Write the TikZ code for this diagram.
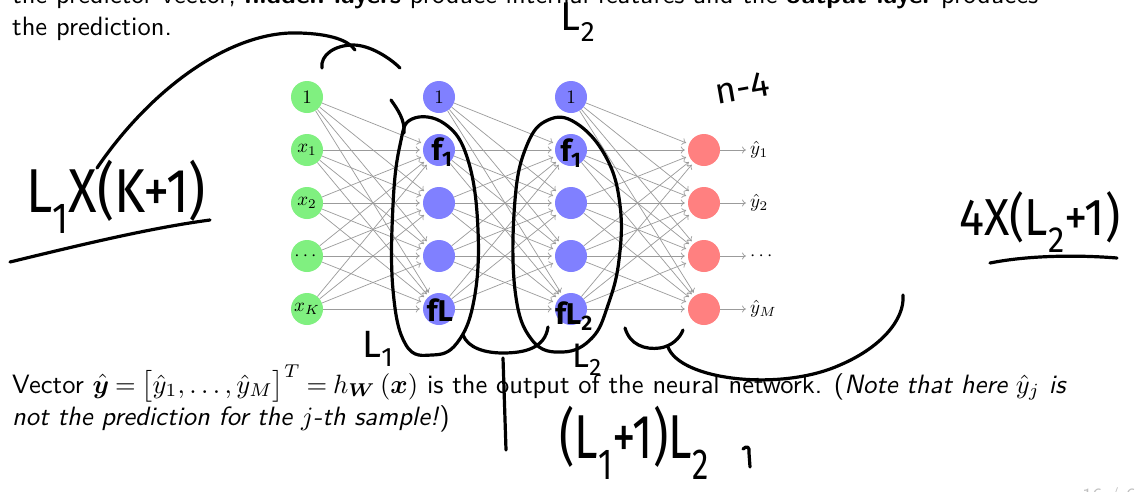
\documentclass[tikz,border=0pt]{standalone}
\usepackage{fontspec}
\usepackage{amsmath}
\usepackage{bm}
\usepackage{graphicx}
\usetikzlibrary{arrows.meta}
\newfontfamily\handfont{Fira Sans}
\newcommand\hf[1]{\handfont\fontsize{#1}{#1}\selectfont}
\newcommand\slidetxt[1]{\scalebox{2.65}{\sffamily\fontsize{10}{12}\selectfont #1}}
\newcommand\nodelbl[1]{\scalebox{1.9}{\fontsize{10}{12}\selectfont #1}}
\definecolor{ingreen}{RGB}{128,240,128}
\definecolor{hidblue}{RGB}{128,128,255}
\definecolor{outred}{RGB}{255,128,128}
\definecolor{edgegray}{RGB}{155,155,155}
\begin{document}
\begin{tikzpicture}[x=1pt,y=-1pt,
  neuron/.style={circle,minimum size=32pt,inner sep=0pt},
  inn/.style={neuron,fill=ingreen},
  hid/.style={neuron,fill=hidblue},
  outn/.style={neuron,fill=outred},
  edge/.style={draw=edgegray,line width=0.7pt,-{To[length=4pt,width=7pt]},shorten >=3pt},
  hw/.style={line width=3.2pt,line cap=round,line join=round},
  hand/.style={inner sep=0pt},
  slide/.style={inner sep=0pt,anchor=base west}]
\fill[white] (0,0) rectangle (1138,491);
\useasboundingbox (0,0) rectangle (1138,491);

% slide text
\node[slide] (t1) at (12,3) {\slidetxt{the predictor vector, \textbf{hidden layers} produce internal features and the \textbf{output layer} produces}};
\node[slide] (t2) at (12,35) {\slidetxt{the prediction.}};
\node[slide] (t3) at (12,393) {\slidetxt{\thickmuskip=4mu Vector $\hat{\bm y} = \bigl[\hat y_1,\dots,\hat y_M\bigr]^T = h_{\bm W}\left(\bm x\right)$ is the output of the neural network. (\textit{Note that here $\hat y_j$ is}}};
\node[slide] (t4) at (12,425) {\slidetxt{\textit{not the prediction for the $j$-th sample!})}};
\node[inner sep=0pt,anchor=base east,text=gray!50] (pg) at (1136,502) {\scalebox{2}{\sffamily\fontsize{10}{12}\selectfont 16 / 6}};

% network
\foreach \k/\y in {0/97,1/150,2/203,3/256,4/309}{
  \node[hid] (A\k) at (439,\y) {};
  \node[hid] (B\k) at (571,\y) {};
}
\node[inn] (I0) at (307,97) {\nodelbl{$1$}};
\node[inn] (I1) at (307,150) {\nodelbl{$x_1$}};
\node[inn] (I2) at (307,203) {\nodelbl{$x_2$}};
\node[inn] (I3) at (307,256) {\nodelbl{$\cdots$}};
\node[inn] (I4) at (307,309) {\nodelbl{$x_K$}};
\node[neuron] at (A0) {\nodelbl{$1$}};
\node[neuron] at (B0) {\nodelbl{$1$}};
\foreach \k/\y in {1/150,2/203,3/256,4/309}{
  \node[outn] (O\k) at (704,\y) {};
}
\node[inner sep=2pt,anchor=west] (Y1) at (748,150) {\nodelbl{$\hat y_1$}};
\node[inner sep=2pt,anchor=west] (Y2) at (748,203) {\nodelbl{$\hat y_2$}};
\node[inner sep=2pt,anchor=west] (Y3) at (748,256) {\nodelbl{$\cdots$}};
\node[inner sep=2pt,anchor=west] (Y4) at (748,309) {\nodelbl{$\hat y_M$}};
\foreach \i in {0,...,4}{
  \foreach \j in {1,...,4}{
    \draw[edge] (I\i) -- (A\j);
    \draw[edge] (A\i) -- (B\j);
    \draw[edge] (B\i) -- (O\j);
  }
}
\foreach \j in {1,...,4}{ \draw[edge,shorten >=2pt] (O\j) -- (Y\j); }

% handwritten strokes
\draw[hw] (97,168) .. controls (150,90) and (230,30) .. (300,33) .. controls (330,34) and (348,40) .. (355,50);
\draw[hw] (322,68) .. controls (320,55) and (335,45) .. (353,45) .. controls (370,45) and (390,58) .. (400,68);
\draw[hw] (10,262) .. controls (80,245) and (150,228) .. (210,220);
\draw[hw] (391,100) .. controls (398,110) and (405,120) .. (404,133);
\draw[hw] plot[smooth cycle,tension=0.7] coordinates {(412,119) (445,124) (468,160) (478,230) (474,300) (457,343) (432,355) (406,345) (393,290) (393,205) (400,145)};
\draw[hw] (463,335) .. controls (468,348) and (485,353) .. (503,353) .. controls (525,353) and (545,348) .. (548,327);
\draw[hw] (503,358) -- (506,450);
\draw[hw] plot[smooth cycle,tension=0.7] coordinates {(548,120) (576,123) (606,157) (620,205) (619,260) (608,305) (592,338) (563,352) (532,340) (515,290) (515,200) (527,145)};
\draw[hw] (625,328) .. controls (630,345) and (645,350) .. (660,348) .. controls (672,346) and (680,338) .. (683,330);
\draw[hw] (668,347) .. controls (680,380) and (780,392) .. (840,365) .. controls (880,348) and (905,320) .. (903,295);
\draw[hw] (990,263) .. controls (1030,255) and (1080,255) .. (1117,258);
\draw[hw] (743,449) .. controls (747,445) and (750,447) .. (749,453) -- (750,467);

% handwritten labels
\node[hand,font=\hf{62}] (lk) at (116,197) {\scalebox{0.85}[1]{L\textsubscript{1}X(K+1)}};
\node[hand,font=\hf{52}] (lr) at (1040,222) {\scalebox{0.9}[1]{4X(L\textsubscript{2}+1)}};
\node[hand,font=\hf{40}] (l2top) at (578,22) {L\textsubscript{2}};
\node[hand,font=\hf{36},rotate=10] (n4) at (742,88) {n-4};
\node[hand,font=\hf{30}\bfseries] (f1a) at (442,152) {f\textsubscript{1}};
\node[hand,font=\hf{30}\bfseries] (fla) at (440,310) {fL};
\node[hand,font=\hf{30}\bfseries] (f1b) at (571,153) {f\textsubscript{1}};
\node[hand,font=\hf{30}\bfseries] (flb) at (574,316) {fL\textsubscript{2}};
\node[hand,font=\hf{38}] (l1b) at (378,349) {L\textsubscript{1}};
\node[hand,font=\hf{34}] (l2b) at (587,360) {L\textsubscript{2}};
\node[hand,font=\hf{62}] (prod) at (634,443) {\scalebox{0.76}[1]{(L\textsubscript{1}+1)L\textsubscript{2}}};
\end{tikzpicture}
\end{document}
